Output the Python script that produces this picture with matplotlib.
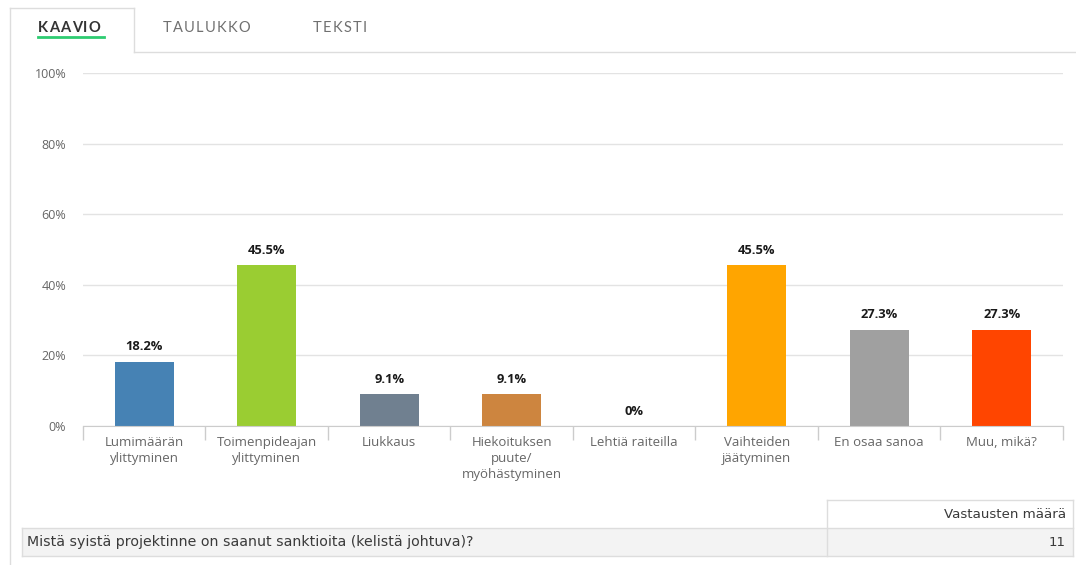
import matplotlib
matplotlib.use("Agg")
import matplotlib.pyplot as plt
from matplotlib.lines import Line2D
from matplotlib.patches import Rectangle

# Survey results: reasons for weather-related sanctions
categories = [
    "Lumimäärän\nylittyminen",
    "Toimenpideajan\nylittyminen",
    "Liukkaus",
    "Hiekoituksen\npuute/\nmyöhästyminen",
    "Lehtiä raiteilla",
    "Vaihteiden\njäätyminen",
    "En osaa sanoa",
    "Muu, mikä?",
]
values = [18.2, 45.5, 9.1, 9.1, 0.0, 45.5, 27.3, 27.3]
value_labels = ["18.2%", "45.5%", "9.1%", "9.1%", "0%", "45.5%", "27.3%", "27.3%"]
colors = ["#4682B4", "#9ACD32", "#708090", "#CD853F", "#8B4513",
          "#FFA500", "#A0A0A0", "#FF4500"]
y_ticks = [0, 20, 40, 60, 80, 100]
y_tick_labels = ["0%", "20%", "40%", "60%", "80%", "100%"]
tabs = ["KAAVIO", "TAULUKKO", "TEKSTI"]
question = "Mistä syistä projektinne on saanut sanktioita (kelistä johtuva)?"
count_header = "Vastausten määrä"
response_count = 11

W, H = 1076, 565
plt.rcParams["font.family"] = ["Open Sans", "DejaVu Sans"]
fig = plt.figure(figsize=(W / 100, H / 100), dpi=100)
fig.patch.set_facecolor("white")
renderer = fig.canvas.get_renderer()


def fx(x):
    return x / W


def fy(y):
    return 1 - y / H


def hline(x0, x1, y, color="#dddddd", lw=1.0):
    fig.add_artist(Line2D([fx(x0), fx(x1)], [fy(y), fy(y)], color=color,
                          lw=lw, transform=fig.transFigure))


def vline(x, y0, y1, color="#dddddd", lw=1.0):
    fig.add_artist(Line2D([fx(x), fx(x)], [fy(y0), fy(y1)], color=color,
                          lw=lw, transform=fig.transFigure))


def spaced_text(x, y, s, tracking, **kw):
    # place characters one by one to get letter-spaced caps
    for ch in s:
        t = fig.text(fx(x), fy(y), ch, ha="left", va="center", **kw)
        x += t.get_window_extent(renderer).width + tracking


# Tab strip and panel frame
vline(10, 8, 565)
hline(10, 134, 8)
vline(134, 8, 52)
hline(134, 1076, 52)

tab_x = [38, 163, 313]
for i, (name, x) in enumerate(zip(tabs, tab_x)):
    spaced_text(x, 28, name, 1.2, fontsize=10.5,
                color="#333333" if i == 0 else "#707070",
                fontfamily=["Lato", "DejaVu Sans"],
                fontweight="bold" if i == 0 else "normal")
hline(38, 104, 37, color="#2ecc71", lw=2.0)

# Bar chart
ax = fig.add_axes([fx(83), fy(426), fx(1063) - fx(83), fy(73) - fy(426)])
n = len(categories)
xs = [i + 0.5 for i in range(n)]
ax.bar(xs, values, width=0.48, color=colors, zorder=3)
ax.set_xlim(0, n)
ax.set_ylim(0, 100)

ax.set_yticks(y_ticks)
ax.set_yticklabels(y_tick_labels, fontsize=9, color="#666666")
ax.yaxis.grid(True, color="#e3e3e3", lw=1.0, zorder=0)
ax.tick_params(axis="y", length=0, pad=12)

ax.set_xticks(xs)
ax.set_xticklabels(categories, fontsize=9.5, color="#666666", linespacing=1.3)
ax.set_xticks(range(n + 1), minor=True)
ax.tick_params(axis="x", which="major", length=0, pad=7)
ax.tick_params(axis="x", which="minor", length=10, color="#cccccc", width=1)

for s in ["top", "right", "left"]:
    ax.spines[s].set_visible(False)
ax.spines["bottom"].set_color("#cccccc")
ax.spines["bottom"].set_zorder(4)

for x, v, lab in zip(xs, values, value_labels):
    ax.annotate(lab, (x, v), xytext=(0, 6), textcoords="offset points",
                ha="center", va="bottom", fontsize=9.3, fontweight="bold",
                color="#1a1a1a")

# Summary table below the chart
fig.add_artist(Rectangle((fx(22), fy(556)), fx(1073) - fx(22), fy(528) - fy(556),
                         transform=fig.transFigure, facecolor="#f3f3f3",
                         edgecolor="none"))
hline(827, 1073, 500)
hline(22, 1073, 528)
hline(22, 1073, 556)
vline(827, 500, 556)
vline(1073, 500, 556)
vline(22, 528, 556)

table_font = dict(fontsize=9.6, color="#3a3a3a", fontfamily=["DejaVu Sans"])
fig.text(fx(1066), fy(514), count_header, ha="right", va="center", **table_font)
fig.text(fx(27), fy(542), question, ha="left", va="center",
         fontsize=10.2, color="#3a3a3a", fontfamily=["DejaVu Sans"])
fig.text(fx(1066), fy(542), str(response_count), ha="right", va="center",
         **table_font)

fig.savefig("out.png", dpi=100, facecolor="white")
